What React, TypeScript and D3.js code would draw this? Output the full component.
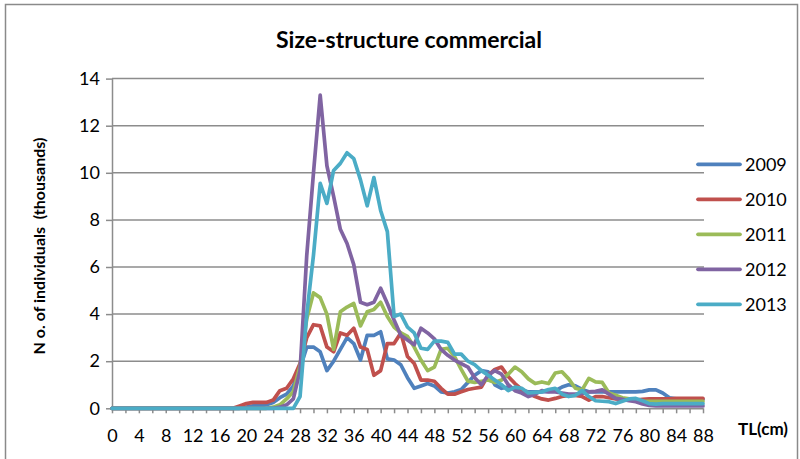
import React, { useRef, useEffect } from 'react';
import * as d3 from 'd3';

// TL (cm) categories 0..88
const tl = d3.range(0, 89);
const years = ['2009', '2010', '2011', '2012', '2013'];
const colors = ['#4F81BD', '#C0504D', '#9BBB59', '#8064A2', '#4BACC6'];

// No. of individuals (thousands), one value per cm
const v2009 = [
  0, 0, 0, 0, 0, 0, 0, 0, 0, 0, 0, 0, 0, 0, 0, 0, 0, 0, 0, 0,
  0.05, 0.1, 0.1, 0.15, 0.25, 0.45, 0.6, 0.95, 1.7, 2.6,
  2.6, 2.4, 1.6, 2.0, 2.5, 3.0, 2.75, 2.05, 3.1, 3.1,
  3.25, 2.1, 2.05, 1.85, 1.3, 0.85, 0.95, 1.05, 0.95, 0.7,
  0.65, 0.7, 0.8, 1.1, 1.4, 1.6, 1.55, 1.0, 0.85, 0.9,
  0.85, 0.75, 0.7, 0.7, 0.7, 0.72, 0.75, 0.9, 1.0, 0.95,
  0.8, 0.7, 0.7, 0.7, 0.7, 0.7, 0.7, 0.7, 0.7, 0.72,
  0.78, 0.78, 0.65, 0.45, 0.4, 0.38, 0.38, 0.38, 0.38,
];
const v2010 = [
  0, 0, 0, 0, 0, 0, 0, 0, 0, 0, 0, 0, 0, 0, 0, 0, 0, 0, 0,
  0.1, 0.2, 0.25, 0.25, 0.25, 0.35, 0.75, 0.85, 1.25, 1.9, 3.0,
  3.55, 3.5, 2.6, 2.4, 3.2, 3.1, 3.4, 2.6, 2.5, 1.4,
  1.6, 2.75, 2.75, 3.2, 2.2, 1.9, 1.2, 1.2, 1.15, 0.85,
  0.6, 0.6, 0.7, 0.8, 0.85, 0.9, 1.4, 1.65, 1.75, 1.35,
  1.05, 0.8, 0.65, 0.5, 0.4, 0.35, 0.42, 0.5, 0.55, 0.55,
  0.5, 0.35, 0.5, 0.5, 0.45, 0.4, 0.38, 0.35, 0.35, 0.38,
  0.4, 0.4, 0.4, 0.4, 0.42, 0.42, 0.42, 0.42, 0.42,
];
const v2011 = [
  0, 0, 0, 0, 0, 0, 0, 0, 0, 0, 0, 0, 0, 0, 0, 0, 0, 0, 0, 0, 0, 0, 0, 0,
  0.05, 0.15, 0.4, 0.7, 1.8, 3.8,
  4.9, 4.7, 4.0, 2.5, 4.1, 4.3, 4.45, 3.5, 4.1, 4.2,
  4.5, 3.9, 3.45, 3.2, 3.05, 2.6, 2.05, 1.6, 1.75, 2.5,
  2.55, 2.2, 1.65, 1.15, 1.1, 1.15, 1.2, 1.1, 1.2, 1.45,
  1.75, 1.55, 1.25, 1.05, 1.12, 1.05, 1.5, 1.55, 1.25, 0.85,
  0.78, 1.27, 1.12, 1.1, 0.65, 0.55, 0.45, 0.4, 0.35, 0.3,
  0.3, 0.3, 0.3, 0.3, 0.3, 0.3, 0.3, 0.3, 0.3,
];
const v2012 = [
  0, 0, 0, 0, 0, 0, 0, 0, 0, 0, 0, 0, 0, 0, 0, 0, 0, 0, 0, 0, 0, 0, 0, 0, 0,
  0.05, 0.15, 0.4, 1.6, 6.5,
  10.0, 13.3, 10.3, 9.0, 7.6, 7.0, 6.1, 4.5, 4.4, 4.5,
  5.1, 4.45, 3.75, 3.1, 2.9, 2.7, 3.4, 3.2, 2.95, 2.5,
  2.25, 2.05, 1.9, 1.75, 1.3, 1.0, 1.4, 1.6, 1.45, 1.0,
  0.75, 0.65, 0.5, 0.6, 0.75, 0.7, 0.7, 0.65, 0.6, 0.6,
  0.63, 0.7, 0.72, 0.78, 0.6, 0.42, 0.38, 0.32, 0.28, 0.18,
  0.12, 0.1, 0.1, 0.1, 0.1, 0.1, 0.1, 0.1, 0.1,
];
const v2013 = [
  0, 0, 0, 0, 0, 0, 0, 0, 0, 0, 0, 0, 0, 0, 0, 0, 0, 0, 0, 0, 0, 0, 0, 0, 0, 0, 0, 0,
  0.5, 4.0,
  6.5, 9.55, 8.7, 10.1, 10.4, 10.85, 10.6, 9.7, 8.6, 9.8,
  8.4, 7.5, 3.9, 4.0, 3.45, 3.2, 2.55, 2.5, 2.85, 2.85,
  2.8, 2.3, 2.3, 2.0, 1.85, 1.6, 1.4, 1.2, 1.0, 0.75,
  0.9, 0.85, 0.65, 0.68, 0.7, 0.8, 0.85, 0.6, 0.5, 0.55,
  0.75, 0.5, 0.32, 0.3, 0.28, 0.2, 0.3, 0.4, 0.42, 0.32,
  0.2, 0.18, 0.2, 0.2, 0.2, 0.2, 0.2, 0.2, 0.2,
];
const seriesValues = [v2009, v2010, v2011, v2012, v2013];

const yTicks = [0, 2, 4, 6, 8, 10, 12, 14];
const xTickMarks = d3.range(0, 89, 2);

const FONT = 'Lato, "Open Sans", sans-serif';

const App = () => {
  const svgRef = useRef(null);

  useEffect(() => {
    const svg = d3.select(svgRef.current);
    svg.selectAll('*').remove();

    const x = d3.scaleLinear().domain([0, 88]).range([112, 703]);
    const y = d3.scaleLinear().domain([0, 14]).range([408.3, 78.6]);

    // chart frame
    svg.append('path')
      .attr('d', 'M5.5,470 V4.5 H797.5 V470')
      .attr('fill', 'none')
      .attr('stroke', '#8a8a8a')
      .attr('stroke-width', 1.5);

    // gridlines
    svg.append('g')
      .selectAll('line')
      .data(yTicks.filter(d => d > 0))
      .join('line')
      .attr('x1', x(0))
      .attr('x2', x(88) + 1)
      .attr('y1', d => y(d))
      .attr('y2', d => y(d))
      .attr('stroke', '#8c8c8c')
      .attr('stroke-width', 1.5);

    // y axis
    const yAxis = svg.append('g')
      .attr('transform', `translate(${x(0)},0)`)
      .call(d3.axisLeft(y).tickValues(yTicks).tickSize(6).tickSizeOuter(0).tickPadding(6));
    yAxis.select('.domain').attr('stroke', '#8c8c8c').attr('stroke-width', 1.5);
    yAxis.selectAll('.tick line').attr('stroke', '#8c8c8c').attr('stroke-width', 1.5);
    yAxis.selectAll('.tick text')
      .attr('font-family', FONT)
      .attr('font-size', 18)
      .attr('fill', '#000');

    // x axis
    const xAxis = svg.append('g')
      .attr('transform', `translate(0,${y(0)})`)
      .call(d3.axisBottom(x)
        .tickValues(xTickMarks)
        .tickSize(5)
        .tickSizeOuter(0)
        .tickPadding(16)
        .tickFormat(d => (d % 4 === 0 ? String(d) : '')));
    xAxis.select('.domain').attr('stroke', '#8c8c8c').attr('stroke-width', 1.5);
    xAxis.selectAll('.tick line').attr('stroke', '#8c8c8c').attr('stroke-width', 1.5);
    xAxis.selectAll('.tick text')
      .attr('font-family', FONT)
      .attr('font-size', 18)
      .attr('fill', '#000');

    // lines
    const line = d3.line()
      .x((d, i) => x(tl[i]))
      .y(d => y(d));

    svg.append('g')
      .selectAll('path')
      .data(seriesValues)
      .join('path')
      .attr('d', d => line(d))
      .attr('fill', 'none')
      .attr('stroke', (d, i) => colors[i])
      .attr('stroke-width', 3.7)
      .attr('stroke-linejoin', 'round')
      .attr('stroke-linecap', 'round');

    // legend
    const legendY = d3.scalePoint().domain(years).range([164.3, 304.3]);
    const legend = svg.append('g')
      .selectAll('g')
      .data(years)
      .join('g')
      .attr('transform', d => `translate(0,${legendY(d)})`);
    legend.append('line')
      .attr('x1', 698)
      .attr('x2', 740)
      .attr('stroke', (d, i) => colors[i])
      .attr('stroke-width', 3.7)
      .attr('stroke-linecap', 'round');
    legend.append('text')
      .attr('x', 745)
      .attr('dy', '0.35em')
      .attr('font-family', FONT)
      .attr('font-size', 18)
      .text(d => d);

    // title
    svg.append('text')
      .attr('x', 409)
      .attr('y', 48)
      .attr('text-anchor', 'middle')
      .attr('font-family', FONT)
      .attr('font-weight', 'bold')
      .attr('font-size', 23)
      .text('Size-structure commercial');

    // y axis title
    svg.append('text')
      .attr('transform', 'translate(45,246) rotate(-90)')
      .attr('text-anchor', 'middle')
      .attr('font-family', FONT)
      .attr('font-weight', 'bold')
      .attr('font-size', 16)
      .attr('xml:space', 'preserve')
      .text('N o. of individuals  (thousands)');

    // x axis title
    svg.append('text')
      .attr('x', 738)
      .attr('y', 435)
      .attr('font-family', FONT)
      .attr('font-weight', 'bold')
      .attr('font-size', 17)
      .text('TL(cm)');
  }, []);

  return (
    <div style={{ position: 'fixed', left: 0, top: 0, background: '#fff' }}>
      <svg ref={svgRef} width={800} height={459}></svg>
    </div>
  );
};

export default App;
